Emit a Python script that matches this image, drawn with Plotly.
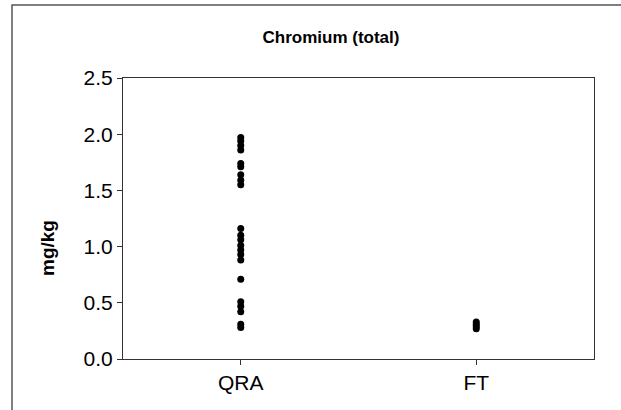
import plotly.graph_objects as go

categories = ["QRA", "FT"]
qra_values = [1.97, 1.94, 1.90, 1.86, 1.74, 1.71, 1.64, 1.59, 1.55,
              1.16, 1.10, 1.06, 1.01, 0.97, 0.93, 0.88, 0.71,
              0.51, 0.47, 0.42, 0.31, 0.28]
ft_values = [0.33, 0.31, 0.29, 0.27]
y_ticks = [0.0, 0.5, 1.0, 1.5, 2.0, 2.5]
y_ticklabels = ["0.0", "0.5", "1.0", "1.5", "2.0", "2.5"]

fig = go.Figure()
fig.add_trace(go.Scatter(
    x=[categories[0]] * len(qra_values), y=qra_values, mode="markers",
    marker=dict(color="black", size=7, symbol="circle"), showlegend=False))
fig.add_trace(go.Scatter(
    x=[categories[1]] * len(ft_values), y=ft_values, mode="markers",
    marker=dict(color="black", size=7, symbol="circle"), showlegend=False))

W, H = 621, 410
L, R, T, B = 123, 27, 78, 51
pw, ph = W - L - R, H - T - B

def px(xp):
    return (xp - L) / pw

def py(yp):
    return (H - B - yp) / ph

fig.update_layout(
    width=W, height=H,
    margin=dict(l=L, r=R, t=T, b=B),
    paper_bgcolor="white", plot_bgcolor="white",
    font=dict(family="Arial, Liberation Sans, sans-serif", color="black"),
    title=dict(text="<b>Chromium (total)</b>", x=331 / W, xanchor="center",
               y=1 - 37 / H, yanchor="middle", xref="container", yref="container",
               font=dict(size=17, color="black")),
    xaxis=dict(type="category", categoryorder="array", categoryarray=categories,
               range=[-0.5, 1.5], showgrid=False, zeroline=False,
               showline=True, linecolor="#333", linewidth=1, mirror=True,
               ticks="outside", ticklen=5, tickcolor="#333",
               tickfont=dict(size=21, color="black")),
    yaxis=dict(range=[0, 2.5], tickvals=y_ticks, ticktext=y_ticklabels,
               showgrid=False, zeroline=False,
               showline=True, linecolor="#333", linewidth=1, mirror=True,
               ticks="outside", ticklen=5, tickcolor="#333",
               tickfont=dict(size=21, color="black")),
    annotations=[dict(text="<b>mg/kg</b>", xref="paper", yref="paper",
                      x=px(47), y=py(248), xanchor="center", yanchor="middle",
                      textangle=-90, showarrow=False,
                      font=dict(size=19, color="black"))],
    shapes=[dict(type="rect", xref="paper", yref="paper",
                 x0=px(12), x1=px(640), y0=py(430), y1=py(5),
                 line=dict(color="#555", width=1.5), fillcolor="rgba(0,0,0,0)",
                 layer="below")],
)

fig.write_html("out.html")
